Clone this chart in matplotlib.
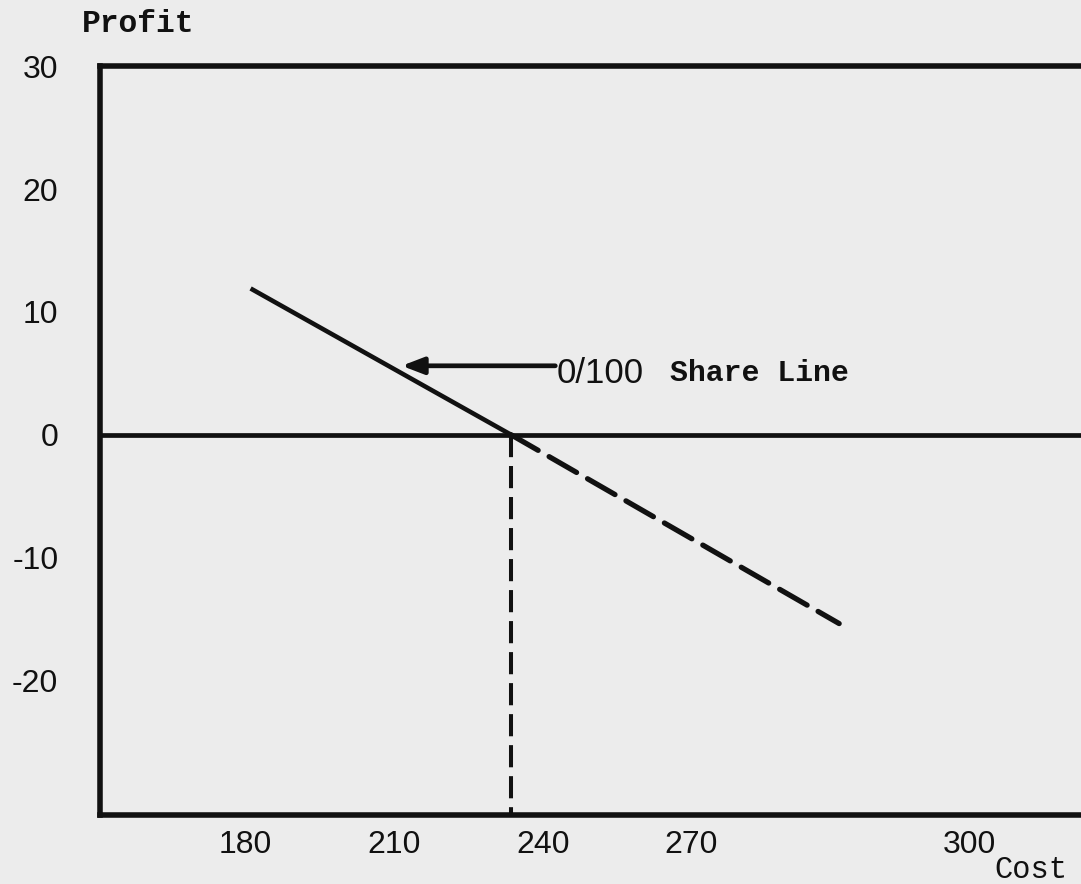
import matplotlib.pyplot as plt

# values
cost_ticks = [180, 210, 240, 270, 300]
profit_ticks = [30, 20, 10, 0, -10, -20]
breakeven = 233.5
share_cost = [181.0, breakeven]
share_profit = [11.9, 0.0]
loss_cost = [breakeven, 299.8]
loss_profit = [0.0, -15.4]

bg = "#ececec"
ink = "#111111"
mono = "Liberation Mono"
sans = "Liberation Sans"

fig = plt.figure(figsize=(10.81, 8.84), dpi=100, facecolor=bg)
ax = fig.add_axes([0.0925, 0.078, 0.912, 0.847])
ax.set_facecolor(bg)

ax.set_xlim(150.6, 349.6)
ax.set_ylim(-31, 30)

for side in ["left", "top", "bottom"]:
    ax.spines[side].set_linewidth(4.0)
    ax.spines[side].set_color(ink)
ax.spines["right"].set_visible(False)

# zero profit line
ax.axhline(0, color=ink, lw=3.4)

# 0/100 share line, solid above break-even, dashed below
ax.plot(share_cost, share_profit, color=ink, lw=3.3, solid_capstyle="butt")
ax.plot(loss_cost, loss_profit, color=ink, lw=3.8, dashes=(6, 2.4), dash_capstyle="round")
ax.plot([breakeven, breakeven], [0, -31], color=ink, lw=2.9, dashes=(5.5, 2.2))

# tick labels (300 sits further right in the original)
ax.set_xticks([180, 210, 240, 270, 326])
ax.set_xticklabels([str(c) for c in cost_ticks], fontfamily=sans, fontsize=23, color=ink)
ax.set_yticks(profit_ticks)
ax.set_yticklabels([str(p) for p in profit_ticks], fontfamily=sans, fontsize=23, color=ink)
ax.tick_params(axis="both", length=0)
ax.tick_params(axis="x", pad=11)
ax.tick_params(axis="y", pad=30)

ax.annotate("", xy=(211.5, 5.6), xytext=(242.5, 5.6),
            arrowprops=dict(arrowstyle="-|>,head_length=1.3,head_width=0.5",
                            color=ink, lw=3.4, shrinkA=0, shrinkB=0))
ax.text(242.7, 5.0, "0/100", fontfamily=sans, fontsize=25, color=ink, va="center", ha="left")
ax.text(265.6, 5.0, "Share Line", fontfamily=mono, fontsize=21.5, fontweight="bold",
        color=ink, va="center", ha="left")

fig.text(0.076, 0.973, "Profit", fontfamily=mono, fontsize=22.5, fontweight="bold",
         color=ink, va="center", ha="left")
fig.text(0.920, 0.016, "Cost", fontfamily=mono, fontsize=22, color=ink, va="center", ha="left")

fig.savefig("out.png", dpi=100, facecolor=bg)
